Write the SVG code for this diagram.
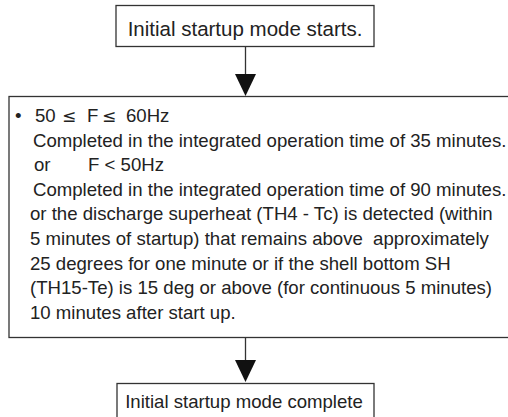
<svg xmlns="http://www.w3.org/2000/svg" width="508" height="417" viewBox="0 0 508 417">
<style>
.box{fill:#fff;stroke:#333;stroke-width:1.3}
.t{font-family:"Liberation Sans",Arial,sans-serif;font-size:18.6px;fill:#222;white-space:pre}
.tt{font-family:"Liberation Sans",Arial,sans-serif;font-size:20.5px;fill:#222}
.le{font-family:"DejaVu Sans",sans-serif;font-size:17px}
.ln{stroke:#333;stroke-width:1.3;fill:none}
.ah{fill:#111}
</style>
<rect width="508" height="417" fill="#fff"/>
<g id="connectors">
<line class="ln" x1="245.5" y1="47" x2="245.5" y2="76"/>
<polygon class="ah" points="235,74 256,74 245.5,96"/>
<line class="ln" x1="245.5" y1="338" x2="245.5" y2="362"/>
<polygon class="ah" points="235,360 256,360 245.5,382"/>
</g>
<g id="start">
<rect class="box" x="116" y="5.5" width="258" height="41"/>
<text class="tt" x="245" y="36" text-anchor="middle">Initial startup mode starts.</text>
</g>
<g id="conditions">
<rect class="box" x="9" y="96.5" width="510" height="241"/>
<text class="t" x="15" y="122">•</text>
<text class="t" y="122"><tspan x="35">50</tspan><tspan class="le" x="62">≤</tspan><tspan x="87">F</tspan><tspan class="le" x="102">≤</tspan><tspan x="126">60Hz</tspan></text>
<text class="t" x="33" y="146.5">Completed in the integrated operation time of 35 minutes.</text>
<text class="t" x="34" y="171">or</text>
<text class="t" x="88" y="171">F &lt; 50Hz</text>
<text class="t" x="33" y="195.5">Completed in the integrated operation time of 90 minutes.</text>
<text class="t" x="30" y="220">or the discharge superheat (TH4 - Tc) is detected (within</text>
<text class="t" x="30" y="245" xml:space="preserve">5 minutes of startup) that remains above  approximately</text>
<text class="t" x="30" y="269.5">25 degrees for one minute or if the shell bottom SH</text>
<text class="t" x="30" y="294">(TH15-Te) is 15 deg or above (for continuous 5 minutes)</text>
<text class="t" x="30" y="318.5">10 minutes after start up.</text>
</g>
<g id="complete">
<rect class="box" x="117" y="383.5" width="257" height="50"/>
<text class="t" x="244" y="408" text-anchor="middle">Initial startup mode complete</text>
</g>
</svg>
